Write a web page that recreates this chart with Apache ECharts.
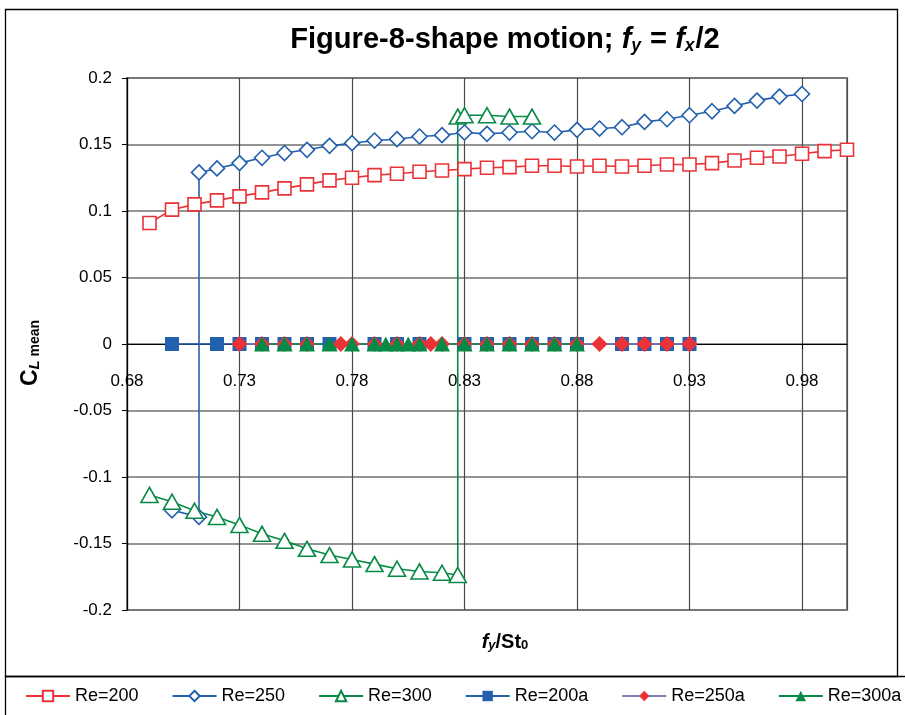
<!DOCTYPE html>
<html>
<head>
<meta charset="utf-8">
<script src="https://cdn.jsdelivr.net/npm/echarts@6/dist/echarts.min.js"></script>
<style>
  html, body { margin: 0; padding: 0; background: #fff; }
  #chart { width: 905px; height: 715px; }
</style>
</head>
<body>
<div id="chart"></div>
<script>
// Re=200, hollow squares
const re200X = [0.69, 0.70, 0.71, 0.72, 0.73, 0.74, 0.75, 0.76, 0.77, 0.78, 0.79, 0.80, 0.81, 0.82, 0.83, 0.84,
    0.85, 0.86, 0.87, 0.88, 0.89, 0.90, 0.91, 0.92, 0.93, 0.94, 0.95, 0.96, 0.97, 0.98, 0.99, 1.00];
const re200Y = [0.091, 0.101, 0.105, 0.108, 0.111, 0.114, 0.117, 0.120, 0.123, 0.125, 0.127, 0.128, 0.1295, 0.1305, 0.1315, 0.1325,
    0.133, 0.134, 0.134, 0.1335, 0.134, 0.1335, 0.134, 0.135, 0.135, 0.136, 0.138, 0.140, 0.141, 0.143, 0.145, 0.146];

// Re=250, hollow diamonds (jumps from the lower to the upper branch)
const re250X = [0.70, 0.712, 0.712, 0.72, 0.73, 0.74, 0.75, 0.76, 0.77, 0.78, 0.79, 0.80, 0.81, 0.82, 0.83,
    0.84, 0.85, 0.86, 0.87, 0.88, 0.89, 0.90, 0.91, 0.92, 0.93, 0.94, 0.95, 0.96, 0.97, 0.98];
const re250Y = [-0.125, -0.130, 0.129, 0.132, 0.136, 0.140, 0.1436, 0.146, 0.149, 0.151, 0.153, 0.154, 0.156, 0.157, 0.159,
    0.158, 0.159, 0.160, 0.159, 0.161, 0.162, 0.163, 0.167, 0.169, 0.172, 0.175, 0.179, 0.183, 0.186, 0.188];

// Re=300, hollow triangles
const re300X = [0.69, 0.70, 0.71, 0.72, 0.73, 0.74, 0.75, 0.76, 0.77, 0.78, 0.79, 0.80, 0.81, 0.82, 0.827,
    0.827, 0.83, 0.84, 0.85, 0.86];
const re300Y = [-0.1135, -0.1186, -0.1254, -0.130, -0.136, -0.1427, -0.148, -0.154, -0.1587, -0.162, -0.1655, -0.169, -0.171, -0.172, -0.1737,
    0.171, 0.172, 0.172, 0.171, 0.171];

// the "a" runs, all sitting on zero
const re200aX = [0.70, 0.72, 0.73, 0.74, 0.75, 0.76, 0.77, 0.79, 0.80, 0.81, 0.83, 0.84, 0.85, 0.86, 0.87, 0.88, 0.90, 0.91, 0.92, 0.93];
const re200aY = [0, 0, 0, 0, 0, 0, 0, 0, 0, 0, 0, 0, 0, 0, 0, 0, 0, 0, 0, 0];
const re250aX = [0.73, 0.74, 0.75, 0.76, 0.775, 0.78, 0.79, 0.80, 0.81, 0.815, 0.82, 0.83, 0.84, 0.85, 0.86, 0.87, 0.88, 0.89, 0.90, 0.91, 0.92, 0.93];
const re250aY = [0, 0, 0, 0, 0, 0, 0, 0, 0, 0, 0, 0, 0, 0, 0, 0, 0, 0, 0, 0, 0, 0];
const re300aX = [0.74, 0.75, 0.76, 0.77, 0.78, 0.79, 0.795, 0.80, 0.805, 0.81, 0.82, 0.83, 0.84, 0.85, 0.86, 0.87, 0.88];
const re300aY = [0, 0, 0, 0, 0, 0, 0, 0, 0, 0, 0, 0, 0, 0, 0, 0, 0];

const seriesNames = ['Re=200', 'Re=250', 'Re=300', 'Re=200a', 'Re=250a', 'Re=300a'];

const FONT = '"Liberation Sans", Arial, sans-serif';
const RED = '#ea3237';
const BLUE = '#2360ad';
const GREEN = '#078a45';

function pairs(xs, ys) {
    return xs.map((x, i) => [x, ys[i]]);
}

function hollow(name, xs, ys, color, symbol, size) {
    return {
        name: name,
        type: 'line',
        data: pairs(xs, ys),
        symbol: symbol,
        symbolSize: size,
        showAllSymbol: true,
        lineStyle: { color: color, width: 1.6 },
        itemStyle: { color: '#fff', borderColor: color, borderWidth: 1.6 }
    };
}

function filled(name, xs, ys, color, lineColor, symbol, size) {
    return {
        name: name,
        type: 'line',
        data: pairs(xs, ys),
        symbol: symbol,
        symbolSize: size,
        showAllSymbol: true,
        lineStyle: { color: lineColor, width: 1.6 },
        itemStyle: { color: color, borderColor: color, borderWidth: 0 }
    };
}

const chart = echarts.init(document.getElementById('chart'), null, { renderer: 'canvas' });

// grid 78..610 px tall, zero sits half way -> move the x axis up onto it
const gridTop = 78, gridBottom = 105;
const gridH = 715 - gridTop - gridBottom;

chart.setOption({
    animation: false,
    backgroundColor: '#fff',
    textStyle: { fontFamily: FONT },
    grid: {
        left: 127, right: 58, top: gridTop, bottom: gridBottom,
        show: true, borderColor: '#8a8a8a', borderWidth: 2, backgroundColor: 'transparent'
    },
    xAxis: {
        type: 'value',
        min: 0.68, max: 1.0, interval: 0.05,
        offset: -gridH / 2,
        axisLine: { onZero: false, lineStyle: { color: '#000', width: 1.2 } },
        axisTick: { show: true, length: 5, lineStyle: { color: '#000' } },
        axisLabel: {
            color: '#000', fontSize: 17, fontFamily: FONT, margin: 29,
            showMaxLabel: false,
            formatter: v => v.toFixed(2)
        },
        splitLine: { show: true, lineStyle: { color: '#4a4a4a', width: 1.2 } }
    },
    yAxis: {
        type: 'value',
        min: -0.2, max: 0.2, interval: 0.05,
        axisLine: { show: true, lineStyle: { color: '#000', width: 1.2 } },
        axisTick: { show: true, length: 5, lineStyle: { color: '#000' } },
        axisLabel: { color: '#000', fontSize: 17, fontFamily: FONT, margin: 15 },
        splitLine: { show: true, lineStyle: { color: '#6f6f6f', width: 1.5 } }
    },
    legend: {
        data: seriesNames,
        left: 20, top: 682, width: 1100,
        itemWidth: 44, itemHeight: 13, itemGap: 33,
        textStyle: { color: '#000', fontSize: 18, fontFamily: FONT }
    },
    graphic: [
        {
            type: 'rect', silent: true, z: -1,
            shape: { x: 5.5, y: 9.5, width: 892, height: 667 },
            style: { fill: 'none', stroke: '#000', lineWidth: 1.3 }
        },
        {
            type: 'rect', silent: true, z: -1,
            shape: { x: 5.5, y: 676.5, width: 960, height: 80 },
            style: { fill: 'none', stroke: '#000', lineWidth: 1.3 }
        },
        {
            type: 'text', x: 505, y: 38, z: 10, scaleX: 0.97,
            style: {
                text: '{a|Figure-8-shape motion; }{i|f}{s|y}{a| = }{i|f}{s|x}{a|/2}',
                align: 'center', verticalAlign: 'middle',
                rich: {
                    a: { fontSize: 30, fontWeight: 'bold', fontFamily: FONT, color: '#000', lineHeight: 34, verticalAlign: 'bottom' },
                    i: { fontSize: 30, fontWeight: 'bold', fontStyle: 'italic', fontFamily: FONT, color: '#000', lineHeight: 34, verticalAlign: 'bottom' },
                    s: { fontSize: 18, fontWeight: 'bold', fontStyle: 'italic', fontFamily: FONT, color: '#000', lineHeight: 17, verticalAlign: 'bottom', padding: [0, 1, 0, 0] }
                }
            }
        },
        {
            type: 'text', x: 28, y: 353, rotation: Math.PI / 2, z: 10,
            style: {
                text: '{c|C}{l|L}{m| mean}',
                align: 'center', verticalAlign: 'middle',
                rich: {
                    c: { fontSize: 23, fontWeight: 'bold', fontFamily: FONT, color: '#000', lineHeight: 28, verticalAlign: 'bottom' },
                    l: { fontSize: 15, fontWeight: 'bold', fontStyle: 'italic', fontFamily: FONT, color: '#000', lineHeight: 15, verticalAlign: 'bottom' },
                    m: { fontSize: 14, fontWeight: 'bold', fontFamily: FONT, color: '#000', lineHeight: 15, verticalAlign: 'bottom' }
                }
            }
        },
        {
            type: 'text', x: 505, y: 640, z: 10,
            style: {
                text: '{i|f}{s|y}{a|/St}{b|0}',
                align: 'center', verticalAlign: 'middle',
                rich: {
                    a: { fontSize: 20, fontWeight: 'bold', fontFamily: FONT, color: '#000', lineHeight: 24, verticalAlign: 'bottom' },
                    i: { fontSize: 20, fontWeight: 'bold', fontStyle: 'italic', fontFamily: FONT, color: '#000', lineHeight: 24, verticalAlign: 'bottom' },
                    s: { fontSize: 13, fontWeight: 'bold', fontStyle: 'italic', fontFamily: FONT, color: '#000', lineHeight: 12, verticalAlign: 'bottom' },
                    b: { fontSize: 13, fontWeight: 'bold', fontFamily: FONT, color: '#000', lineHeight: 12, verticalAlign: 'bottom' }
                }
            }
        }
    ],
    series: [
        hollow('Re=200', re200X, re200Y, RED, 'rect', 13),
        hollow('Re=250', re250X, re250Y, BLUE, 'diamond', 15),
        hollow('Re=300', re300X, re300Y, GREEN, 'triangle', [17, 15]),
        filled('Re=200a', re200aX, re200aY, BLUE, BLUE, 'rect', 14),
        filled('Re=250a', re250aX, re250aY, RED, '#7c7fb8', 'diamond', 16),
        filled('Re=300a', re300aX, re300aY, GREEN, GREEN, 'triangle', [16, 15])
    ]
});
</script>
</body>
</html>
